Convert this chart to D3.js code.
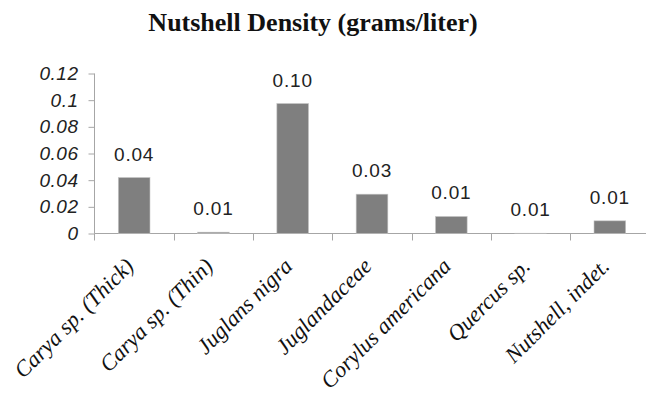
<!DOCTYPE html>
<html>
<head>
<meta charset="utf-8">
<script src="https://cdn.jsdelivr.net/npm/d3@7"></script>
<style>
  body { margin: 0; background: #fff; }
  svg { display: block; }
</style>
</head>
<body>
<div id="chart"></div>
<script>
// chart data
const categories = ["Carya sp. (Thick)", "Carya sp. (Thin)", "Juglans nigra", "Juglandaceae",
                    "Corylus americana", "Quercus sp.", "Nutshell, indet."];
const density = [0.042, 0.001, 0.0975, 0.0295, 0.0128, 0.0002, 0.0095];
const valueLabels = ["0.04", "0.01", "0.10", "0.03", "0.01", "0.01", "0.01"];
const yTicks = [0, 0.02, 0.04, 0.06, 0.08, 0.1, 0.12];
const yTickLabels = ["0", "0.02", "0.04", "0.06", "0.08", "0.1", "0.12"];

const width = 646, height = 396;
const axisColor = "#a6a6a6";

const svg = d3.select("#chart").append("svg")
  .attr("width", width)
  .attr("height", height);

// scales
const x = d3.scaleBand()
  .domain(categories)
  .range([94.5, 649.5])
  .paddingInner(0.6)
  .paddingOuter(0.3);

const y = d3.scaleLinear()
  .domain([0, 0.12])
  .range([233.5, 73.5]);

// title - sized so it spans roughly the same width as the original
const title = svg.append("text")
  .attr("x", 313)
  .attr("y", 31)
  .attr("text-anchor", "middle")
  .style("font-family", "'Liberation Serif', 'Times New Roman', serif")
  .style("font-weight", "bold")
  .style("font-size", "20px")
  .attr("fill", "#111")
  .text("Nutshell Density (grams/liter)");
const tw = title.node().getComputedTextLength();
title.style("font-size", (20 * 329 / tw).toFixed(1) + "px");

// y axis
const yAxis = svg.append("g")
  .attr("transform", "translate(94.5,0)")
  .call(d3.axisLeft(y).tickValues(yTicks).tickSize(6).tickPadding(10)
    .tickFormat((d, i) => yTickLabels[i]));
yAxis.select(".domain").attr("stroke", axisColor).attr("d", `M0,${y(0.12)}V${y(0)}`);
yAxis.selectAll(".tick line").attr("stroke", axisColor);
yAxis.selectAll(".tick text")
  .style("font-family", "'Liberation Sans', Arial, sans-serif")
  .style("font-style", "italic")
  .style("font-size", "19px")
  .style("letter-spacing", "0.5px")
  .attr("fill", "#222");

// x axis (runs off the right edge, like the reference)
const xAxis = svg.append("g")
  .attr("transform", `translate(0,${y(0)})`);
xAxis.append("line")
  .attr("x1", 94.5).attr("x2", width)
  .attr("stroke", axisColor);
xAxis.selectAll(".xtick")
  .data(categories)
  .enter()
  .append("line")
  .attr("class", "xtick")
  .attr("x1", d => Math.round(x(d) - x.step() * x.paddingInner() / 2) + 0.5)
  .attr("x2", d => Math.round(x(d) - x.step() * x.paddingInner() / 2) + 0.5)
  .attr("y1", 0).attr("y2", 7)
  .attr("stroke", axisColor);

// category labels, rotated
svg.selectAll(".xlabel")
  .data(categories)
  .enter()
  .append("text")
  .attr("class", "xlabel")
  .attr("transform", d => `translate(${x(d) + x.bandwidth() / 2 + 1},${y(0) + 34}) rotate(-45)`)
  .attr("text-anchor", "end")
  .style("font-family", "'Liberation Serif', 'Times New Roman', serif")
  .style("font-style", "italic")
  .style("font-size", "22.5px")
  .attr("fill", "#111")
  .text(d => d);

// bars
svg.selectAll(".bar")
  .data(density)
  .enter()
  .append("rect")
  .attr("class", "bar")
  .attr("x", (d, i) => x(categories[i]))
  .attr("y", d => y(d))
  .attr("width", x.bandwidth())
  .attr("height", d => y(0) - y(d))
  .attr("fill", "#7f7f7f")
  .attr("stroke", "#c8c8c8")
  .attr("stroke-width", 0.6);

// value labels
svg.selectAll(".vlabel")
  .data(density)
  .enter()
  .append("text")
  .attr("class", "vlabel")
  .attr("x", (d, i) => x(categories[i]) + x.bandwidth() / 2)
  .attr("y", d => y(d) - 17)
  .attr("text-anchor", "middle")
  .style("font-family", "'Liberation Sans', Arial, sans-serif")
  .style("font-size", "19px")
  .style("letter-spacing", "0.8px")
  .attr("fill", "#222")
  .text((d, i) => valueLabels[i]);
</script>
</body>
</html>
